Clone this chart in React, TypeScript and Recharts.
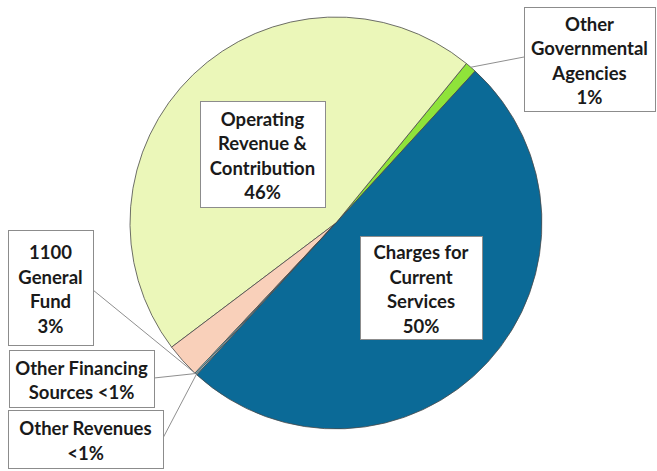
import React from 'react';
import { PieChart, Pie, Cell } from 'recharts';

const categories = [
  'Other Governmental Agencies',
  'Operating Revenue & Contribution',
  '1100 General Fund',
  'Other Financing Sources',
  'Other Revenues',
  'Charges for Current Services',
];
const values = [0.9, 46.2, 2.7, 0.1, 0.1, 50.0];
const labelLines = [
  ['Other', 'Governmental', 'Agencies', '1%'],
  ['Operating', 'Revenue &', 'Contribution', '46%'],
  ['1100', 'General', 'Fund', '3%'],
  ['Other Financing', 'Sources <1%'],
  ['Other Revenues', '<1%'],
  ['Charges for', 'Current', 'Services', '50%'],
];
const colors = ['#8fe33a', '#ebf7b9', '#f9d0ba', '#7fd6e6', '#b9e3ee', '#0b6a97'];

const data = categories.map((name, i) => ({ name, value: values[i] }));

type Box = { x: number; y: number; w: number; h: number; ax?: number; ay?: number; anchor?: 'mid' | 'end' | 'start' };
const boxes: Box[] = [
  { x: 524, y: 7, w: 131, h: 104, ax: 524, ay: 57, anchor: 'mid' },
  { x: 200, y: 101, w: 125, h: 106 },
  { x: 8, y: 230, w: 85, h: 115, ax: 93, ay: 290, anchor: 'end' },
  { x: 9, y: 350, w: 145, h: 57, ax: 154, ay: 378, anchor: 'mid' },
  { x: 8, y: 410, w: 155, h: 58, ax: 163, ay: 438, anchor: 'mid' },
  { x: 360, y: 236, w: 122, h: 103 },
];

const RAD = Math.PI / 180;
const FONT = 'Lato, "Open Sans", sans-serif';

const renderLabel = (props: any) => {
  const { cx, cy, outerRadius, index, midAngle, startAngle, endAngle } = props;
  const b = boxes[index];
  const lines = labelLines[index];
  const lh = 24.5;
  const mid = b.y + b.h / 2 + 1.5;
  const y0 = mid - ((lines.length - 1) * lh) / 2;
  let leader = null;
  if (b.ax !== undefined && b.ay !== undefined) {
    const a = b.anchor === 'end' ? endAngle : b.anchor === 'start' ? startAngle : midAngle;
    const px = cx + outerRadius * Math.cos(-a * RAD);
    const py = cy + outerRadius * Math.sin(-a * RAD);
    leader = <line x1={b.ax} y1={b.ay} x2={px} y2={py} stroke="#8f8f8f" strokeWidth={1} />;
  }
  return (
    <g key={`lbl-${index}`}>
      {leader}
      <rect x={b.x + 0.5} y={b.y + 0.5} width={b.w} height={b.h} fill="#ffffff" stroke="#8c8c8c" strokeWidth={1} />
      {lines.map((t, j) => (
        <text
          key={j}
          x={b.x + b.w / 2}
          y={y0 + j * lh}
          textAnchor="middle"
          dominantBaseline="central"
          fontFamily={FONT}
          fontWeight={700}
          fontSize={18.5}
          fill="#1a1a1a"
        >
          {t}
        </text>
      ))}
    </g>
  );
};

export default function App() {
  return (
    <div style={{ position: 'absolute', left: 0, top: 0, width: 657, height: 471, background: '#ffffff' }}>
      <PieChart width={657} height={471} margin={{ top: 0, right: 0, bottom: 0, left: 0 }}>
        <Pie
          data={data}
          dataKey="value"
          nameKey="name"
          cx={336}
          cy={223}
          innerRadius={0}
          outerRadius={206}
          startAngle={47.5}
          endAngle={407.5}
          stroke="#4a4a4a"
          strokeWidth={0.8}
          label={renderLabel}
          labelLine={false}
          isAnimationActive={false}
        >
          {data.map((d, i) => (
            <Cell key={d.name} fill={colors[i]} />
          ))}
        </Pie>
      </PieChart>
    </div>
  );
}
